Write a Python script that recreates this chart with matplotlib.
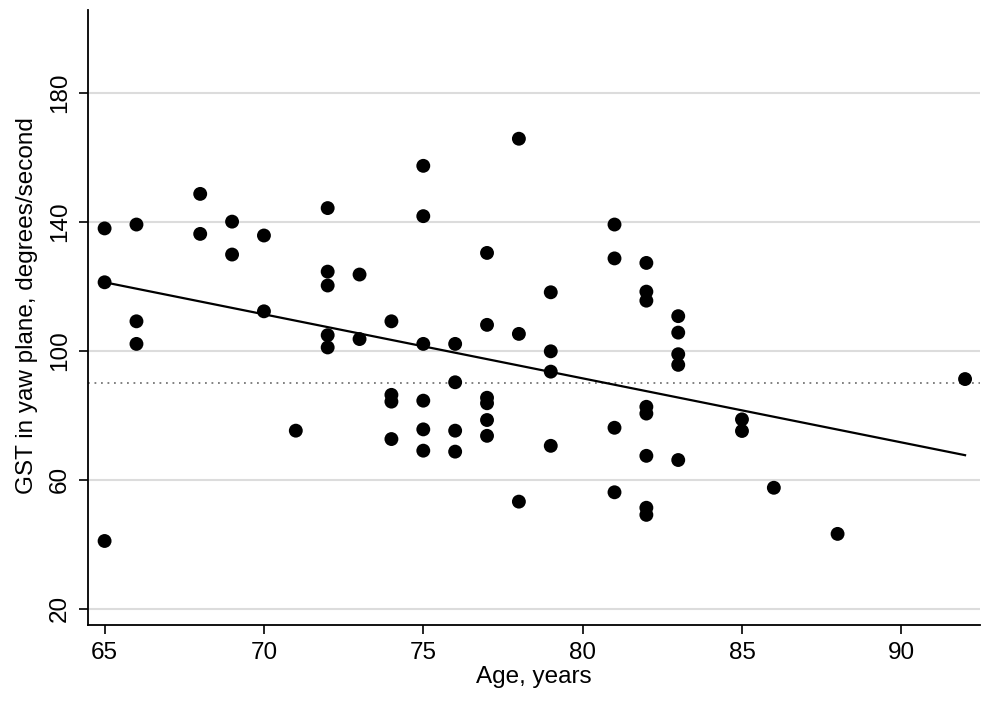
import matplotlib
matplotlib.use('Agg')
import matplotlib.pyplot as plt

plt.rcParams['font.family'] = ['Liberation Sans', 'DejaVu Sans']

# values (age in years, GST in deg/s)
age = [65, 65, 65,
       66, 66, 66,
       68, 68,
       69, 69,
       70, 70,
       71,
       72, 72, 72, 72, 72,
       73, 73,
       74, 74, 74, 74,
       75, 75, 75, 75, 75, 75,
       76, 76, 76, 76,
       77, 77, 77, 77, 77, 77,
       78, 78, 78,
       79, 79, 79, 79,
       81, 81, 81, 81,
       82, 82, 82, 82, 82, 82, 82, 82,
       83, 83, 83, 83, 83,
       85, 85,
       86,
       88,
       92]
gst = [137.9, 121.2, 41.0,
       139.1, 109.1, 102.1,
       148.6, 136.2,
       140.0, 129.8,
       135.7, 112.2,
       75.2,
       144.2, 124.5, 120.2, 104.8, 101.0,
       123.6, 103.6,
       109.1, 86.3, 84.2, 72.6,
       157.3, 141.7, 102.1, 84.5, 75.6, 69.0,
       102.1, 90.2, 75.2, 68.7,
       130.3, 108.0, 85.4, 83.7, 78.5, 73.6,
       165.7, 105.2, 53.2,
       118.1, 99.8, 93.5, 70.5,
       139.1, 128.6, 76.1, 56.1,
       127.2, 118.3, 115.5, 82.6, 80.5, 67.4, 51.3, 49.1,
       110.7, 105.6, 98.9, 95.6, 66.1,
       78.7, 75.1,
       57.5,
       43.2,
       91.2]

# fitted line end points and reference level
fit_x = [65, 92]
fit_y = [121.2, 67.6]
ref_level = 90.1

x_ticks = [65, 70, 75, 80, 85, 90]
y_ticks = [20, 60, 100, 140, 180]

fig = plt.figure(figsize=(9.98, 7.06), dpi=100)
ax = fig.add_axes([0.0882, 0.1147, 0.8938, 0.8711])

for y in y_ticks:
    ax.axhline(y, color='#dcdcdc', lw=1.5, zorder=0)
ax.axhline(ref_level, color='#777777', lw=1.3, linestyle=(0, (1, 2.6)), zorder=1)

ax.scatter(age, gst, s=100, color='black', edgecolors='none', zorder=3)
ax.plot(fit_x, fit_y, color='black', lw=1.6, zorder=2)

ax.set_xlim(64.48, 92.47)
ax.set_ylim(14.95, 205.6)
ax.set_xticks(x_ticks)
ax.set_yticks(y_ticks)
ax.set_yticklabels([str(v) for v in y_ticks], rotation=90, va='center')

for s in ['top', 'right']:
    ax.spines[s].set_visible(False)
for s in ['left', 'bottom']:
    ax.spines[s].set_linewidth(1.3)

ax.tick_params(axis='both', length=6.5, width=1.2, labelsize=17.5, pad=6)
ax.set_xlabel('Age, years', fontsize=17.5, labelpad=1)
ax.set_ylabel('GST in yaw plane, degrees/second', fontsize=17.5)
ax.yaxis.set_label_coords(-0.056, 0.52)

fig.savefig('out.png', dpi=100)
